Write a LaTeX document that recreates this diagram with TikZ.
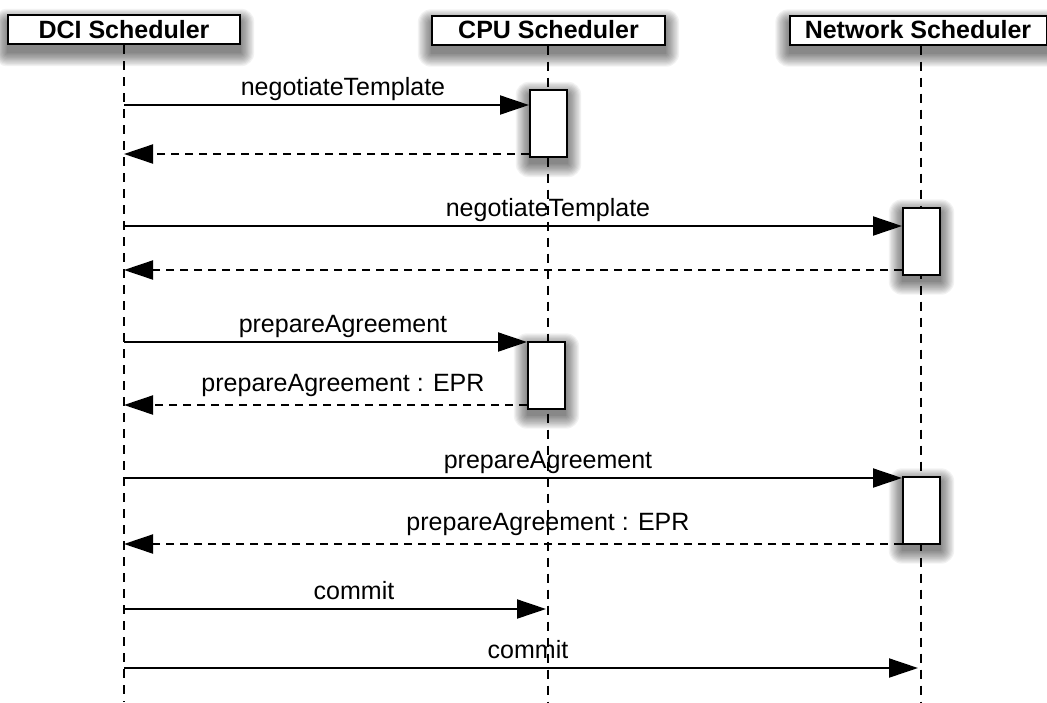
\documentclass[tikz,border=0pt]{standalone}
\usepackage{fontspec}
\setmainfont{Liberation Sans}
\usetikzlibrary{arrows.meta}
\pgfdeclarelayer{shadowlayer}
\pgfdeclarelayer{lifelayer}
\pgfsetlayers{shadowlayer,lifelayer,main}

% soft drop shadow under a named box
\newcommand\softshadow[2]{%
  \foreach \r in {0,1.2,...,13.3} {
    \fill[black,opacity=0.05,rounded corners=\r pt]
      ([shift={(-\r pt,\r pt-#2 pt)}]#1.north west) rectangle
      ([shift={(\r pt,-\r pt-#2 pt)}]#1.south east);
  }%
}

\tikzset{
  head/.style={draw, line width=2pt, fill=white, inner sep=0pt,
    minimum height=29pt, font=\fontsize{25}{30}\selectfont\bfseries},
  actbox/.style={draw, line width=2pt, fill=white, inner sep=0pt,
    minimum width=37pt, minimum height=67pt},
  lifeline/.style={line width=2pt, dash pattern=on 9pt off 7pt},
  msg/.style={line width=2pt, -{Triangle[length=29pt,width=19pt]}},
  ret/.style={msg, dash pattern=on 8pt off 6pt},
  lbl/.style={inner sep=0pt, anchor=base, font=\fontsize{25}{30}\selectfont},
}

\begin{document}
\begin{tikzpicture}[x=1pt,y=-1pt]
\useasboundingbox (0,0) rectangle (1047,702);

% participants
\node[head, minimum width=232pt] (dci) at (124,29.5) {DCI Scheduler};
\node[head, minimum width=233pt] (cpu) at (548.5,30) {CPU Scheduler};
\node[head, minimum width=257pt] (net) at (918,30) {Network Scheduler};

% lifeline ends
\coordinate (dciend) at (124,702);
\coordinate (cpuend) at (548,702);
\coordinate (netend) at (921,702);

% activation bars
\node[actbox] (a1) at (548.5,123.5) {};
\node[actbox] (a2) at (921.5,241) {};
\node[actbox] (a3) at (546.5,375) {};
\node[actbox] (a4) at (921.5,510) {};

\begin{pgfonlayer}{shadowlayer}
  \softshadow{dci}{8}
  \softshadow{cpu}{8}
  \softshadow{net}{8}
  \softshadow{a1}{6}
  \softshadow{a2}{6}
  \softshadow{a3}{6}
  \softshadow{a4}{6}
\end{pgfonlayer}

\begin{pgfonlayer}{lifelayer}
  \draw[lifeline] (dci.south -| dciend) -- (dciend);
  \draw[lifeline] (cpu.south -| cpuend) -- (cpuend);
  \draw[lifeline] (net.south -| netend) -- (netend);
\end{pgfonlayer}

% message end points on the DCI lifeline and the plain lifelines
\coordinate (s1) at (124,105);
\coordinate (r1) at (124,154);
\coordinate (s2) at (124,226);
\coordinate (r2) at (124,270);
\coordinate (s3) at (124,342);
\coordinate (r3) at (124,405);
\coordinate (s4) at (124,478);
\coordinate (r4) at (124,544);
\coordinate (s5) at (124,609);
\coordinate (t5) at (548,609);
\coordinate (s6) at (124,668);
\coordinate (t6) at (921,668);

% negotiateTemplate with the CPU scheduler
\draw[msg] (s1) -- (s1 -| a1.west);
\node[lbl] (l1) at (343,95) {negotiateTemplate};
\draw[ret] (r1 -| a1.west) -- (r1);

% negotiateTemplate with the network scheduler
\draw[msg] (s2) -- (s2 -| a2.west);
\node[lbl] (l2) at (548,216) {negotiateTemplate};
\draw[ret] (r2 -| a2.west) -- (r2);

% prepareAgreement with the CPU scheduler
\draw[msg] (s3) -- (s3 -| a3.west);
\node[lbl] (l3) at (343,332) {prepareAgreement};
\draw[ret] (r3 -| a3.west) -- (r3);
\node[lbl] (l4) at (343,391) {prepareAgreement : EPR};

% prepareAgreement with the network scheduler
\draw[msg] (s4) -- (s4 -| a4.west);
\node[lbl] (l5) at (548,468) {prepareAgreement};
\draw[ret] (r4 -| a4.west) -- (r4);
\node[lbl] (l6) at (548,530) {prepareAgreement : EPR};

% commits
\draw[msg, shorten >=2pt] (s5) -- (t5);
\node[lbl] (l7) at (354,599) {commit};
\draw[msg, shorten >=3pt] (s6) -- (t6);
\node[lbl] (l8) at (528,658) {commit};
\end{tikzpicture}
\end{document}
